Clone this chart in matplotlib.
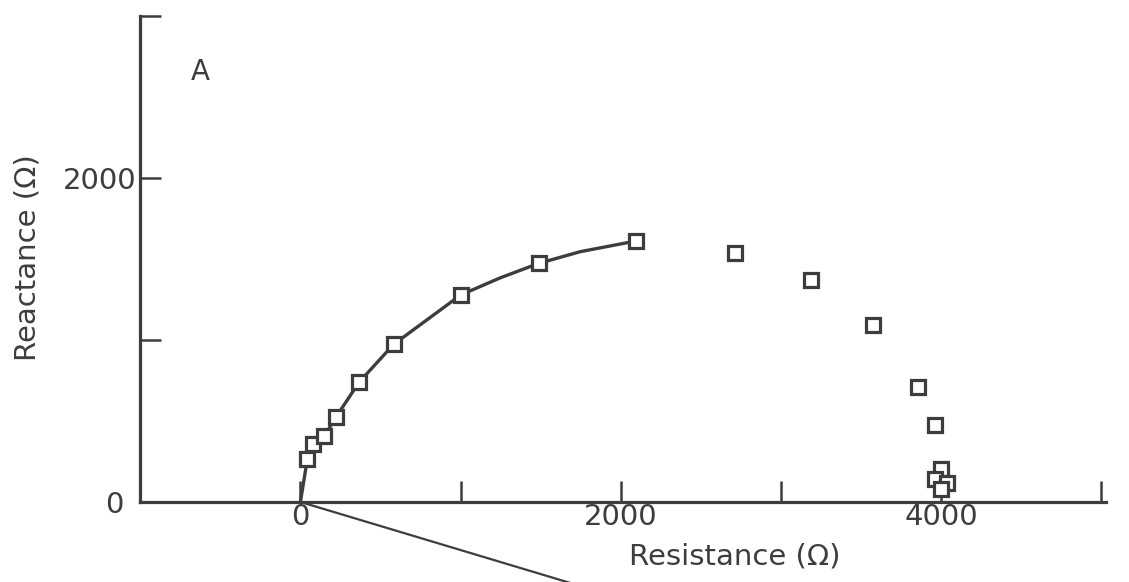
import matplotlib
matplotlib.use("Agg")
import matplotlib.pyplot as plt
import matplotlib.transforms as mtransforms

# ---- data ----
resistance = [43, 80, 149, 224, 366, 582, 1001, 1488, 2095,
              2714, 3188, 3573, 3858, 3964, 3997, 3965, 4035, 3997]
reactance = [264, 358, 407, 527, 739, 973, 1278, 1473, 1611,
             1535, 1372, 1093, 708, 477, 203, 139, 116, 80]

# fitted curve (origin, low-resistance points)
fit_r = [0, 43, 80, 149, 224, 366, 582, 1001, 1246, 1488, 1746, 2095]
fit_x = [0, 264, 358, 407, 527, 739, 973, 1278, 1383, 1473, 1545, 1611]

# straight line leaving the origin downward
line_r = [0, 1800]
line_x = [0, -534]

x_ticks = [0, 1000, 2000, 3000, 4000, 5000]
x_labels = ["0", "", "2000", "", "4000", ""]
y_ticks = [0, 1000, 2000, 3000]
y_labels = ["0", "", "2000", ""]

panel_label = "A"
x_title = "Resistance (Ω)"
y_title = "Reactance (Ω)"

# ---- drawing ----
ink = "#3d3d3d"
fig = plt.figure(figsize=(11.29, 5.82), dpi=100)
ax = fig.add_axes([0, 0, 1, 1])
ax.set_xlim(-1876, 5174)
ax.set_ylim(-494, 3099)

for s in ["top", "right"]:
    ax.spines[s].set_visible(False)
ax.spines["left"].set_position(("data", -1000))
ax.spines["bottom"].set_position(("data", 0))
ax.spines["left"].set_bounds(0, 3000)
ax.spines["bottom"].set_bounds(-1000, 5030)
for s in ["left", "bottom"]:
    ax.spines[s].set_linewidth(2.3)
    ax.spines[s].set_color(ink)

ax.set_xticks(x_ticks)
ax.set_xticklabels(x_labels)
ax.set_yticks(y_ticks)
ax.set_yticklabels(y_labels)
ax.tick_params(axis="x", direction="in", length=15, width=1.8, color=ink,
               labelsize=21, labelcolor=ink, pad=1)
ax.tick_params(axis="y", direction="in", length=15, width=1.8, color=ink,
               labelsize=21, labelcolor=ink, pad=3)

# the y "0" label sits a bit further left in the reference
zero_lab = ax.get_yticklabels()[0]
zero_lab.set_transform(zero_lab.get_transform() +
                       mtransforms.ScaledTranslation(-0.13, 0, fig.dpi_scale_trans))

ax.plot(line_r, line_x, color=ink, lw=1.6, solid_capstyle="butt")
ax.plot(fit_r, fit_x, color=ink, lw=2.4)
ax.plot(resistance, reactance, linestyle="none", marker="s", markersize=10,
        markerfacecolor="white", markeredgecolor=ink, markeredgewidth=2.3,
        zorder=5)

ax.text(0.177, 0.876, panel_label, transform=ax.transAxes, fontsize=20,
        color=ink, ha="center", va="center")
fig.text(735 / 1129, 1 - 557 / 582, x_title, fontsize=21, color=ink,
         ha="center", va="center")
fig.text(28 / 1129, 1 - 258 / 582, y_title, fontsize=21, color=ink,
         ha="center", va="center", rotation=90)

fig.savefig("out.png", dpi=100, facecolor="white")
